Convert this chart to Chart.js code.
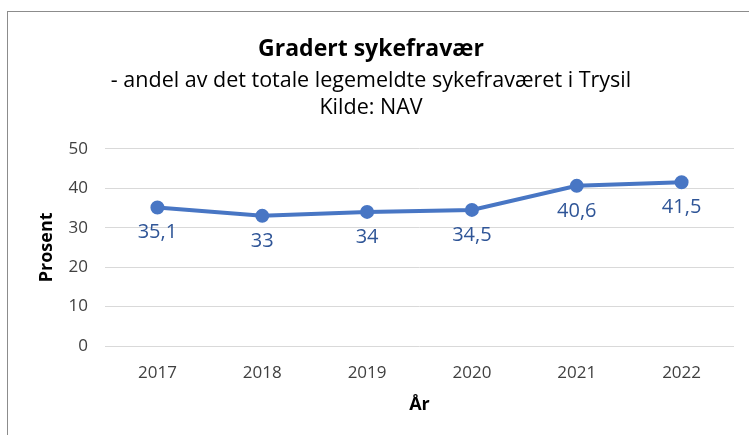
<!DOCTYPE html>
<html>
<head>
<meta charset="utf-8">
<script src="https://cdn.jsdelivr.net/npm/chart.js@4"></script>
<style>
  body { margin: 0; background: #fff; }
  #wrap { position: relative; width: 749px; height: 435px; overflow: hidden; }
  #frame { position: absolute; left: 7px; top: 11px; width: 800px; height: 500px; border: 1px solid #8c8c8c; }
  canvas { position: absolute; left: 0; top: 0; }
</style>
</head>
<body>
<div id="wrap">
  <div id="frame"></div>
  <canvas id="lineChart" width="749" height="435"></canvas>
</div>
<script>
const aar = ["2017", "2018", "2019", "2020", "2021", "2022"]
const andel = [35.1, 33, 34, 34.5, 40.6, 41.5]
const yTicks = [0, 10, 20, 30, 40, 50]

const blaa = "rgb(72, 118, 196)"
const fontNavn = "'Open Sans', Lato, sans-serif"

// tallene under punktene, med komma som i norsk
const verdiEtiketter = {
  id: "verdiEtiketter",
  afterDatasetsDraw(chart) {
    const ctx = chart.ctx
    const meta = chart.getDatasetMeta(0)
    ctx.save()
    ctx.font = "20px " + fontNavn
    ctx.fillStyle = "#2f5597"
    ctx.textAlign = "center"
    ctx.textBaseline = "middle"
    meta.data.forEach((p, i) => {
      ctx.fillText(String(andel[i]).replace(".", ","), p.x, p.y + 25)
    })
    ctx.restore()
  }
}

const lChart = document.getElementById("lineChart").getContext("2d")
const lineChart = new Chart(lChart, {
  type: "line",
  data: {
    labels: aar,
    datasets: [
      {
        data: andel,
        borderColor: blaa,
        backgroundColor: blaa,
        borderWidth: 4,
        pointRadius: 5,
        pointHoverRadius: 5,
        tension: 0,
      },
    ],
  },
  options: {
    responsive: false,
    animation: false,
    layout: { padding: { left: 8, right: 15, top: 0, bottom: 0 } },
    plugins: {
      legend: { display: false },
      tooltip: { enabled: false },
      title: {
        display: true,
        text: "Gradert sykefravær",
        color: "#000",
        font: { family: fontNavn, size: 23, weight: "bold", lineHeight: 1.2 },
        padding: { top: 36, bottom: 4 },
      },
      subtitle: {
        display: true,
        text: ["- andel av det totale legemeldte sykefraværet i Trysil", "Kilde: NAV"],
        color: "#000",
        font: { family: fontNavn, size: 21.5, lineHeight: 1.26 },
        padding: { top: 0, bottom: 27 },
      },
    },
    scales: {
      x: {
        offset: true,
        afterFit(axis) { axis.height = 89 },
        grid: { display: false, drawTicks: false },
        border: { display: false },
        ticks: { color: "#404040", font: { family: fontNavn, size: 17 }, padding: 17 },
        title: {
          display: true,
          text: "År",
          color: "#000",
          font: { family: fontNavn, size: 18, weight: "bold" },
          padding: { top: 0, bottom: 19 },
        },
      },
      y: {
        min: 0,
        max: 50,
        afterFit(axis) { axis.width = 97 },
        afterBuildTicks(axis) {
          axis.ticks = yTicks.map(v => ({ value: v }))
        },
        grid: { color: "#d9d9d9", lineWidth: 1, drawTicks: false },
        border: { display: false },
        ticks: { color: "#404040", font: { family: fontNavn, size: 17 }, padding: 17 },
        title: {
          display: true,
          text: "Prosent",
          color: "#000",
          font: { family: fontNavn, size: 18, weight: "bold" },
          padding: { top: 28, bottom: 0 },
        },
      },
    },
  },
  plugins: [verdiEtiketter],
})
</script>
</body>
</html>
